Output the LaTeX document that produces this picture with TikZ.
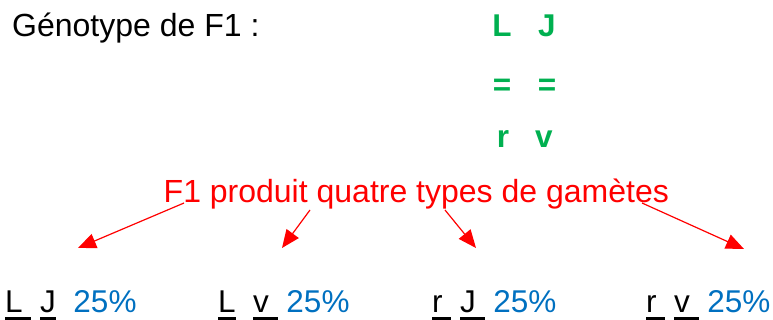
\documentclass[tikz,border=0pt]{standalone}
\usepackage{fontspec}
\setmainfont{Liberation Sans}
\usepackage{xcolor}
\usetikzlibrary{arrows.meta,positioning}
\definecolor{allelegreen}{HTML}{00B050}
\definecolor{gamred}{HTML}{FF0000}
\definecolor{pctblue}{HTML}{0070C0}
% underlined allele (the rule is as wide as its box)
\newcommand\allele[1]{\setbox0=\hbox{#1}\rlap{\rule[-7.8pt]{\wd0}{3.2pt}}\box0}

\begin{document}
\begin{tikzpicture}[x=1pt,y=-1pt,
  every node/.style={inner sep=0pt},
  titre/.style={anchor=base west,font=\fontsize{32}{36}\selectfont},
  gene/.style={anchor=base,text=allelegreen,font=\fontsize{31.5}{36}\selectfont\bfseries},
  gamete/.style={anchor=base west,font=\fontsize{31.5}{36}\selectfont},
  fleche/.style={draw=gamred,line width=1.2pt,-{Triangle[length=18pt,width=15pt]}}]

  \useasboundingbox (0,0) rectangle (773,320);

  \node[titre] (geno) at (12,37) {Génotype de F1 :};

  \node[gene] (l1) at (502,37) {L};
  \node[gene] (j1) at (547,37) {J};
  \node[gene] (eq1) at (502,96) {=};
  \node[gene] (eq2) at (547,96) {=};
  \node[gene] (r1) at (503,148) {r};
  \node[gene] (v1) at (544,148) {v};

  \node[gamete,text=gamred,font=\fontsize{32}{36}\selectfont]
       (prod) at (163.5,203) {F1 produit quatre types de gamètes};

  \node[gamete] (g1) at (5,312)
       {\allele{L\ }\ \allele{J}\ \ \textcolor{pctblue}{25\%}};
  \node[gamete] (g2) at (218,312)
       {\allele{L}\ \ \allele{v\ }\ \textcolor{pctblue}{25\%}};
  \node[gamete] (g3) at (432,312)
       {\allele{r\ }\ \allele{J\ }\ \textcolor{pctblue}{25\%}};
  \node[gamete] (g4) at (646,312)
       {\allele{r\ }\ \allele{v\ }\ \textcolor{pctblue}{25\%}};

  \coordinate (d1) at (184,203);
  \coordinate (d2) at (310,210);
  \coordinate (d3) at (445,210);
  \coordinate (d4) at (642,203);
  \coordinate (a1) at (78,248);
  \coordinate (a2) at (282,248);
  \coordinate (a3) at (476,248);
  \coordinate (a4) at (744,249);

  \draw[fleche] (d1) -- (a1);
  \draw[fleche] (d2) -- (a2);
  \draw[fleche] (d3) -- (a3);
  \draw[fleche] (d4) -- (a4);

\end{tikzpicture}
\end{document}
